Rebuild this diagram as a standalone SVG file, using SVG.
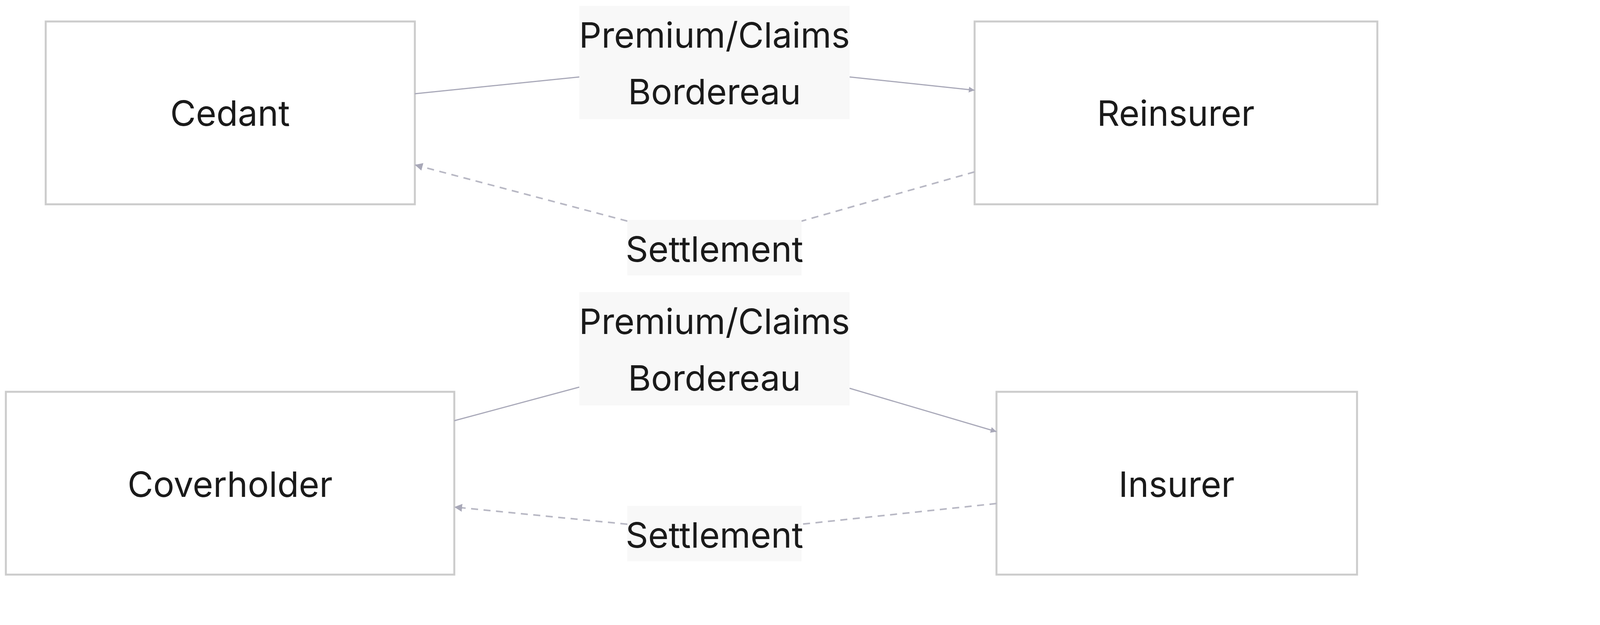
<svg xmlns="http://www.w3.org/2000/svg" width="4800" height="1600" viewBox="0 0 4800 1600">
<style>
.n rect{fill:#fff;stroke:#ccc;stroke-width:5}
text{font-family:"Inter","Liberation Sans",sans-serif;font-size:90px;fill:#1a1a1a;text-anchor:middle}
.lb{fill:#f8f8f8}
.e{fill:none;stroke:#a8a8b8;stroke-width:3}
.d{stroke-dasharray:18 14;stroke-width:4;stroke:#b8b8c4}
</style>
<defs><marker id="a" viewBox="0 0 10 10" refX="10" refY="5" markerWidth="5" markerHeight="5" orient="auto"><path d="M0,0L10,5L0,10z" fill="#a8a8b8"/></marker></defs>
<rect width="4800" height="1600" fill="#fff"/>
<g id="cedant" class="n"><rect x="117" y="55" width="945" height="468"/><text x="589" y="322">Cedant</text></g>
<g id="reinsurer" class="n"><rect x="2495" y="55" width="1031" height="468"/><text x="3010" y="322">Reinsurer</text></g>
<g id="coverholder" class="n"><rect x="15" y="1003" width="1148" height="468"/><text x="589" y="1272">Coverholder</text></g>
<g id="insurer" class="n"><rect x="2551" y="1003" width="923" height="468"/><text x="3012" y="1272">Insurer</text></g>
<g id="connectors">
<path class="e" d="M1062,240L1483,197M2175,197L2495,231" marker-end="url(#a)"/>
<path class="e d" d="M2495,440L2052,566M1606,566L1062,422" marker-end="url(#a)"/>
<path class="e" d="M1163,1077L1483,991M2175,994L2551,1105" marker-end="url(#a)"/>
<path class="e d" d="M2551,1289L2052,1342M1606,1342L1163,1298" marker-end="url(#a)"/>
<rect class="lb" x="1483" y="15" width="692" height="290"/>
<text x="1829" y="122">Premium/Claims</text><text x="1829" y="267">Bordereau</text>
<rect class="lb" x="1606" y="563" width="446" height="142"/>
<text x="1829" y="670">Settlement</text>
<rect class="lb" x="1483" y="748" width="692" height="290"/>
<text x="1829" y="855">Premium/Claims</text><text x="1829" y="1000">Bordereau</text>
<rect class="lb" x="1606" y="1295" width="446" height="142"/>
<text x="1829" y="1402">Settlement</text>
</g>
</svg>
